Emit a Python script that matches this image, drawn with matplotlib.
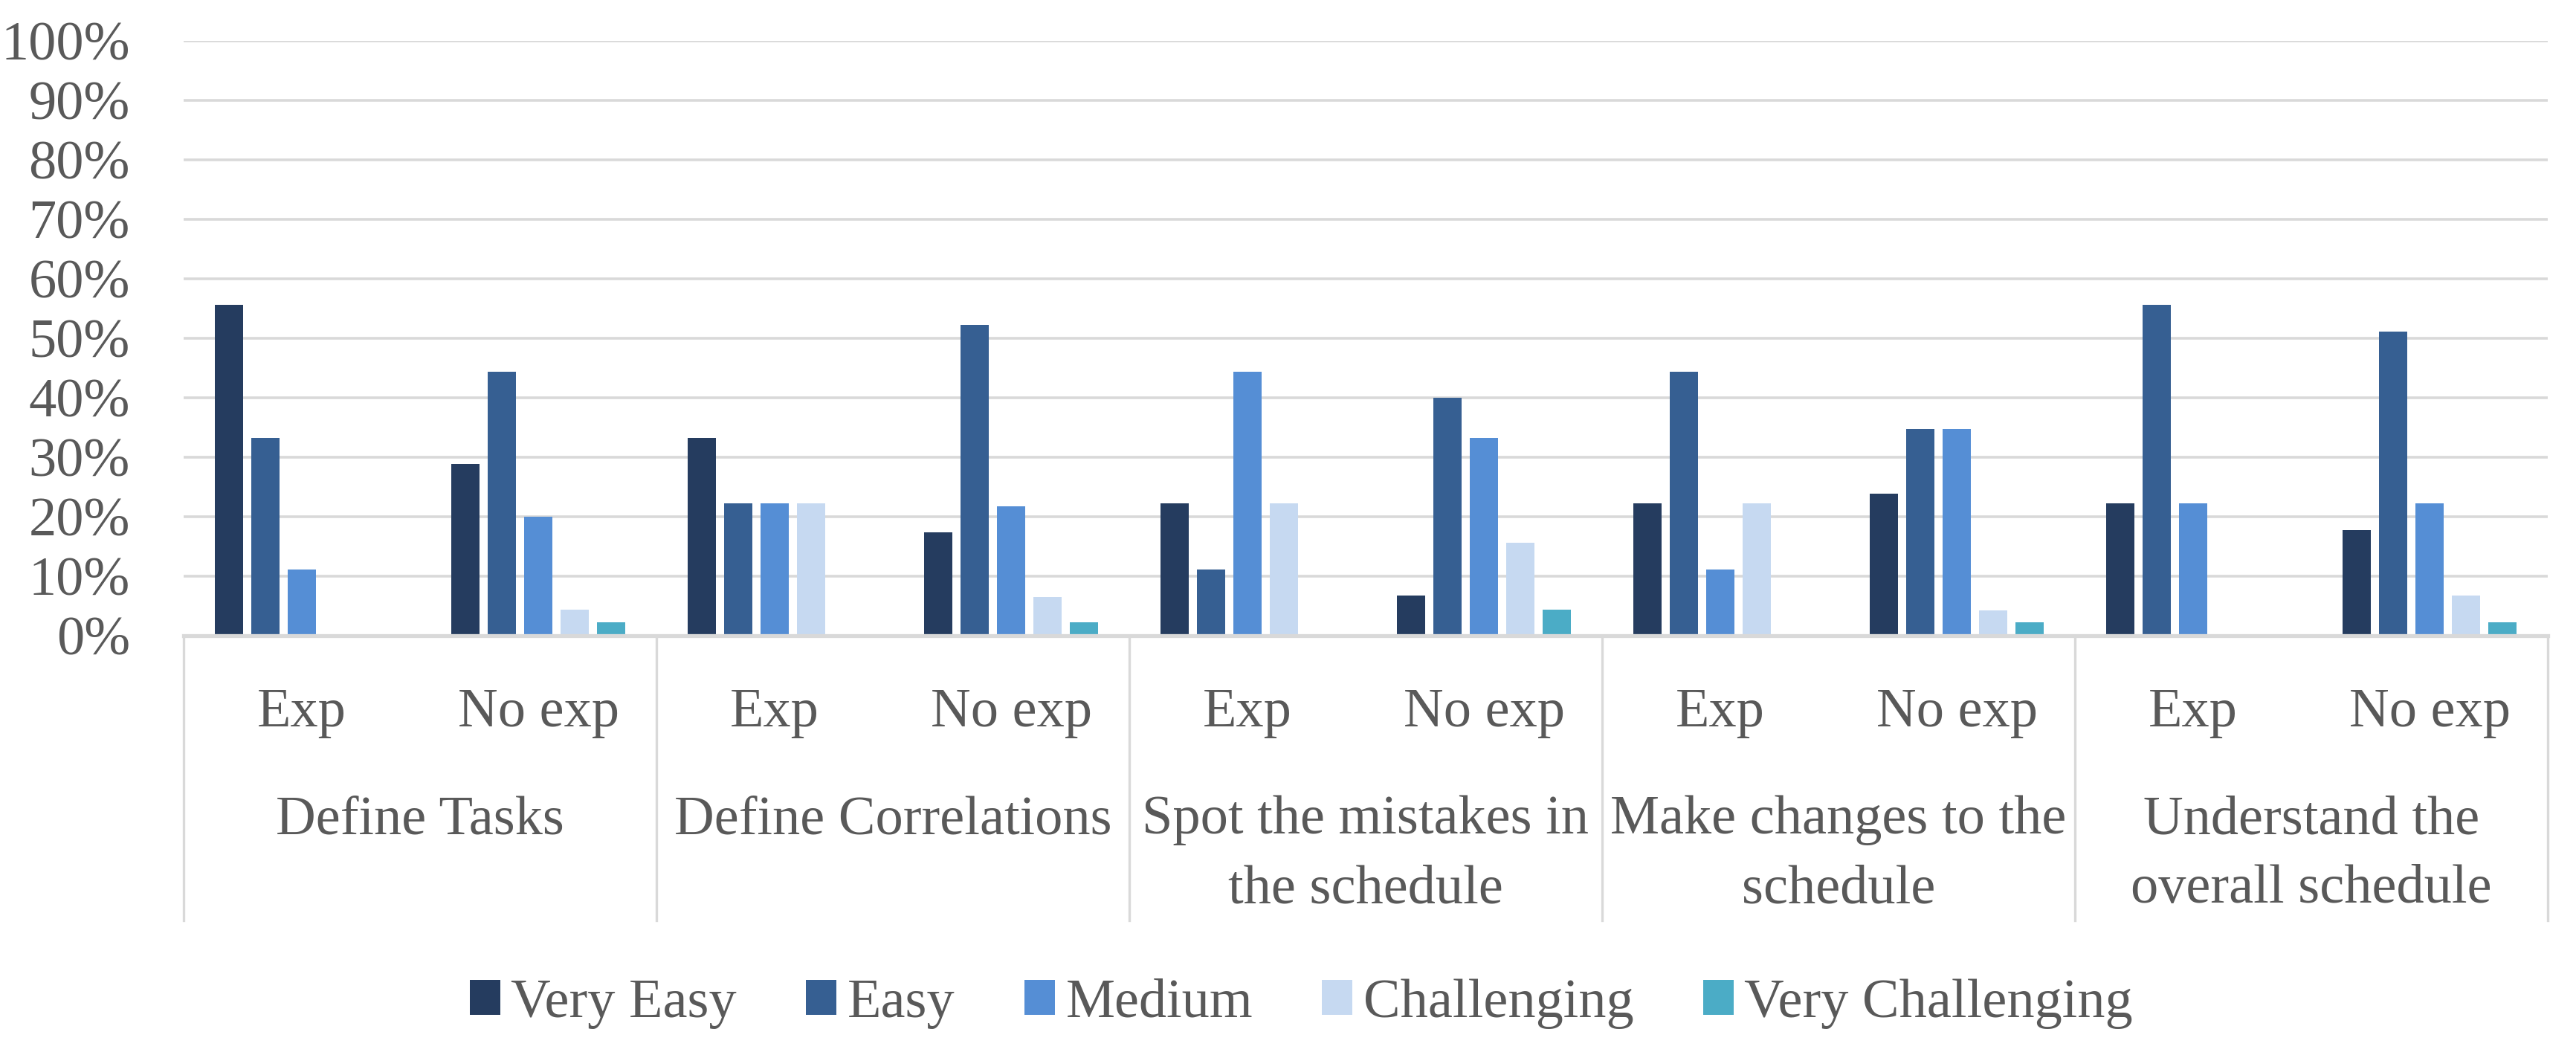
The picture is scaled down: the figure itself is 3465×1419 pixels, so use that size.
import matplotlib
matplotlib.use("Agg")
import matplotlib.pyplot as plt
import numpy as np
from matplotlib.patches import Patch

plt.rcParams['font.family'] = ['Liberation Serif', 'DejaVu Serif']

groups = ["Define Tasks", "Define Correlations", "Spot the mistakes in\nthe schedule",
          "Make changes to the\nschedule", "Understand the\noverall schedule"]
subgroups = ["Exp", "No exp"]
series = ["Very Easy", "Easy", "Medium", "Challenging", "Very Challenging"]

# values in %, order: [DT Exp, DT No, DC Exp, DC No, SM Exp, SM No, MC Exp, MC No, U Exp, U No]
very_easy = [55.6, 28.9, 33.3, 17.4, 22.2, 6.7, 22.2, 23.9, 22.2, 17.8]
easy = [33.3, 44.4, 22.2, 52.2, 11.1, 40.0, 44.4, 34.8, 55.6, 51.1]
medium = [11.1, 20.0, 22.2, 21.7, 44.4, 33.3, 11.1, 34.8, 22.2, 22.2]
challenging = [0.0, 4.4, 22.2, 6.5, 22.2, 15.6, 22.2, 4.3, 0.0, 6.7]
very_challenging = [0.0, 2.2, 0.0, 2.2, 0.0, 4.4, 0.0, 2.2, 0.0, 2.2]

colors = ['#253C5F', '#365F92', '#558ED5', '#C6D9F1', '#4BACC6']
values = [very_easy, easy, medium, challenging, very_challenging]

W, H = 3466, 1419
dpi = 200
fig = plt.figure(figsize=(W / dpi, H / dpi), dpi=dpi)
ax_left, ax_right = 247 / W, 3427 / W
ax_bottom, ax_top = 1 - 855 / H, 1 - 55 / H
ax = fig.add_axes([ax_left, ax_bottom, ax_right - ax_left, ax_top - ax_bottom])

text_color = '#595959'
grid_color = '#D9D9D9'
fs = 26.8

n = len(very_easy)
x = np.arange(n)
step = 0.154
width = 0.12
for i, (vals, c) in enumerate(zip(values, colors)):
    ax.bar(x + (i - 2) * step, np.array(vals) / 100.0, width=width, color=c,
           label=series[i], zorder=3)

ax.set_xlim(-0.5, n - 0.5)
ax.set_ylim(0, 1)
ax.set_yticks(np.arange(0, 1.01, 0.1))
ax.set_yticklabels([f"{int(round(v * 100))}%" for v in np.arange(0, 1.01, 0.1)])
ax.tick_params(axis='y', length=0, pad=26, labelsize=fs, labelcolor=text_color)
ax.tick_params(axis='x', length=0, labelbottom=False)
for s in ['top', 'right', 'left', 'bottom']:
    ax.spines[s].set_visible(False)
ax.yaxis.grid(True, color=grid_color, linewidth=1.3, zorder=0)
ax.set_axisbelow(True)
ax.axhline(0, color=grid_color, linewidth=1.9, zorder=4, clip_on=False)

# multi-level category axis
trans = ax.get_xaxis_transform()
sep_bottom = (855 - 1238) / 800.0
for k in range(len(groups) + 1):
    xpos = -0.5 + 2 * k
    ax.plot([xpos, xpos], [0, sep_bottom], transform=trans, color=grid_color,
            linewidth=1.2, clip_on=False)

sub_y = (855 - 977) / 800.0
for i in range(n):
    ax.text(x[i], sub_y, subgroups[i % 2], transform=trans, ha='center', va='baseline',
            fontsize=fs, color=text_color)

line1_y = (855 - 1121) / 800.0
line_gap = 93 / 800.0
for g, label in enumerate(groups):
    for j, line in enumerate(label.split('\n')):
        ax.text(2 * g + 0.5, line1_y - j * line_gap, line, transform=trans,
                ha='center', va='baseline', fontsize=fs, color=text_color)

handles = [Patch(facecolor=c, edgecolor='none') for c in colors]
fig.legend(handles, series, loc='center', bbox_to_anchor=(0.505, 1 - 1350 / H), ncol=5,
           frameon=False, fontsize=fs, labelcolor=text_color, handlelength=0.55,
           handleheight=0.6, handletextpad=0.2, columnspacing=1.25)

fig.savefig("out.png", dpi=dpi, facecolor='white')
